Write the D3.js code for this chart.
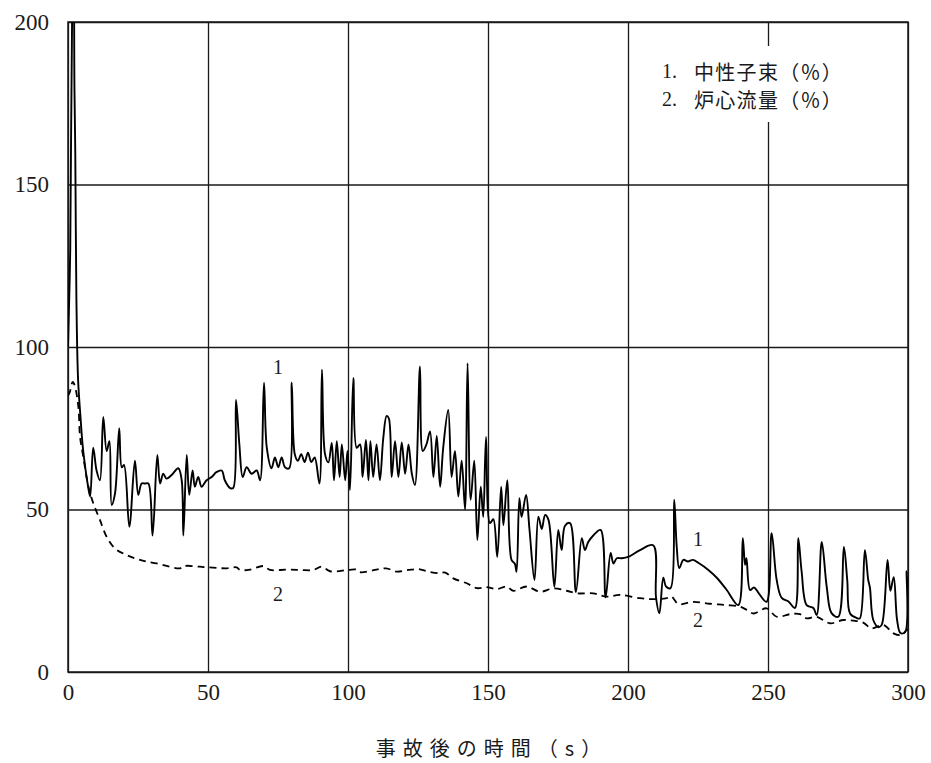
<!DOCTYPE html>
<html><head><meta charset="utf-8">
<script src="https://cdn.jsdelivr.net/npm/d3@7"></script>
<style>
html,body{margin:0;padding:0;background:#fff;}
svg{display:block;}
</style>
</head><body>
<svg id="chart" width="931" height="763"></svg>
<script>
// ---- data ----
const xTicks = [0, 50, 100, 150, 200, 250, 300];
const yTicks = [0, 50, 100, 150, 200];
const legendNums = ["1.", "2."];
const legendLabels = ["中性子束（％）", "炉心流量（％）"];
const xTitle = "事故後の時間（s）";

// series 1: neutron flux (%)
const time1 = [0,0.8,1.5,2.0,2.3,2.6,3.0,3.6,4.5,5.2,6.0,7.0,7.9,9.0,10.2,11.4,12.6,13.8,14.8,15.6,16.8,18.3,19.2,20,21.9,23.9,25.1,26.3,27.5,28.7,30.2,31.9,32.9,34,35.2,37,39.4,40.6,41.2,42.4,43.3,44.5,45.3,46.5,47.7,49.5,51.3,53,54.9,56,57.9,59,60,61.2,62.4,63.8,65.6,67.4,68.6,70,71,72.7,73.9,75.1,76.3,77.5,79,79.9,81,82.1,83.3,84.5,85.7,86.9,88.1,89.8,90.7,91.8,93,94.2,95,96,97,97.8,99,99.8,100.7,101.9,103.1,104.3,105.2,106.4,107.3,108,109,110.2,111.4,112.6,113.8,114.6,115.6,116.8,118,119.2,120.4,121.6,122.8,123.9,125.7,126.7,128,129.3,130.5,131.7,132.9,134,135.8,137,138.2,139.4,140.6,141.8,142.7,143.8,145.1,146.2,147.4,148.3,149.3,150.7,151.9,153.3,154.7,155.5,156.9,158.4,159.6,160.2,161.2,162,163.6,164.8,166.6,168,169.2,170.4,171.6,173.7,175.1,176.3,177.5,179.3,181.4,183.5,184.6,185.8,187.6,190.2,192,193.8,194.8,196,197.7,200.1,204.3,209,210,211.2,212.6,213.6,215.2,216.5,217.4,218.3,219.8,221.4,223.2,225.1,228.7,231.7,235.2,239.4,241,241.8,242.3,243.6,245,247.1,249.5,251.3,253.1,254.9,257.3,259.6,260.8,262,263.8,266.2,267.4,269.2,271,272.7,275.1,277.1,278.3,279.3,281.7,282.8,284.6,285.8,286.4,287.6,289.4,290.6,292.7,293.7,294.9,296.1,297.3,299,299.5,300];
const flux = [100,130,205,215,180,160,115,90,78,70,64,58,54,69,62,59,78.5,68,71,51.4,55,75,63,63.7,44.7,65,54.5,58,58,58,42,66.8,58,61,59.5,60.6,62.7,59,42,66.8,54.5,62,57,60,57,59,60,61.5,62,59,56.6,56.6,83.7,70,60,63,61,62,59,89,69,62.7,66,63,66,63,62.7,89,67,65,67,64.6,67.5,64.6,66,58,93,67,64.5,70.5,59,71,60,70,59,68,56,90.5,69,70,60,71.4,59,71,60,70,59,72,78.8,78,60,71,60,70.6,61,70,61,57.5,94,68,70,74,60,72.6,57,69,80.6,60,68,54,65,50,95,53,65,40.6,57,47.7,72.3,45.8,47,35.4,57,45.2,59,34.5,33.3,30.8,53.5,47.7,54.5,44,28.3,47.8,44,48.3,46.8,26.2,43.7,37.5,45,45.8,24.6,41.2,37.5,40,42,43.7,23,36.6,33.4,35,35,35.4,37.5,39,23,18.1,29,26.3,25.8,53,38.6,32,34.5,34,34.5,33.6,31.4,29,25.3,20.6,41.2,33,35,25.2,26,23.7,21.6,42.7,28.3,22.8,21.7,19.7,41.2,31,20.6,19.7,17.5,40,26,18.1,17,38.5,28.3,18,16.6,16.5,37.5,28.3,26,16,13.8,14.5,34.5,25,29.2,16,12,12.3,31,22];

// series 2: core flow (%)
const time2 = [0,0.6,1.7,2.5,3.7,4.3,5.5,7.3,9,11.4,13.8,16.8,20.9,25.7,31.7,40,41.4,47.1,50,56.7,60.2,61.4,65,69.8,72.1,78,82.9,87.6,90.6,93.6,100.1,103.1,104.3,109.6,113.6,117.4,121.6,125.7,128.7,132.3,134.7,137.6,142.4,146,149.5,153.1,156.7,159,163.8,168.6,173.3,178.1,181.7,187.6,192.4,197.1,204.3,209,213.8,215.5,218,223.3,229.3,235.2,240,242.4,244.8,249.5,253.1,257.9,261.4,263.8,267.4,272.1,276.9,280.5,284,287,291.2,294.8,297.7,299.5,300];
const flow = [85,86,89.3,87.8,81.6,72.4,66,57,52,46.8,41.6,38,36,34.5,33.4,31.9,32.6,32.4,32.2,31.9,32.2,31.4,31.5,32.6,31.4,31.5,31.4,31.4,32.4,31,31.4,31.5,30.7,31.4,31.9,30.9,31.4,31.6,30.9,30.4,30.6,28.8,27.3,25.8,26.1,25.5,26.3,25,26.3,24.7,25.7,25,24.2,24.2,23.2,23.7,22.7,22.4,22.7,23.2,20.9,21.6,21,20.6,20.1,19.1,18,19.6,17,17.8,17.8,16.5,17,15,16,15.8,15.2,13.4,14.5,11.9,11.4,12.9,13];

// curve labels
const curveLabelT = [75, 225, 75, 225];
const curveLabelV = [94, 41, 24, 16];
const curveLabelText = ["1", "1", "2", "2"];

// ---- drawing ----
const svg = d3.select("#chart");
const L = 68, R = 908, T = 22, B = 672;
const x = d3.scaleLinear().domain([0, 300]).range([L, R]);
const y = d3.scaleLinear().domain([0, 200]).range([B, T]);
const serif = "'Liberation Serif','DejaVu Serif',serif";
const cjk = "'Noto Sans CJK JP','Noto Sans CJK SC',sans-serif";
const ink = "#1a1a1a";

svg.append("defs").append("clipPath").attr("id", "plotclip")
  .append("rect").attr("x", L).attr("y", T).attr("width", R - L).attr("height", B - T);

// grid via axes
const gx = svg.append("g").attr("transform", `translate(0,${B})`)
  .call(d3.axisBottom(x).tickValues(xTicks).tickSize(-(B - T)).tickFormat(""));
const gy = svg.append("g").attr("transform", `translate(${L},0)`)
  .call(d3.axisLeft(y).tickValues(yTicks).tickSize(-(R - L)).tickFormat(""));
[gx, gy].forEach(g => {
  g.select(".domain").remove();
  g.selectAll(".tick line").attr("stroke", ink).attr("stroke-width", 1.3);
});

// frame
svg.append("rect").attr("x", L).attr("y", T).attr("width", R - L).attr("height", B - T)
  .attr("fill", "none").attr("stroke", ink).attr("stroke-width", 1.5);

// tick labels
const lx = svg.append("g").attr("transform", `translate(0,${B})`)
  .call(d3.axisBottom(x).tickValues(xTicks).tickSize(0).tickPadding(23).tickFormat(d3.format("d")));
const ly = svg.append("g").attr("transform", `translate(${L},0)`)
  .call(d3.axisLeft(y).tickValues(yTicks).tickSize(0).tickPadding(19).tickFormat(d3.format("d")));
[lx, ly].forEach(g => {
  g.select(".domain").remove();
  g.attr("font-family", serif).attr("font-size", 23);
  g.selectAll(".tick text").attr("font-family", serif).attr("font-size", 23).attr("fill", ink);
});
lx.selectAll(".tick text").attr("dy", "0.2em");

// series lines
const plot = svg.append("g").attr("clip-path", "url(#plotclip)");
const line = d3.line().x(d => x(d[0])).y(d => y(d[1])).curve(d3.curveCatmullRom.alpha(0.5));
plot.append("path").datum(time1.map((t, i) => [t, flux[i]]))
  .attr("d", line).attr("fill", "none").attr("stroke", "#000")
  .attr("stroke-width", 1.9).attr("stroke-linejoin", "round");
plot.append("path").datum(time2.map((t, i) => [t, flow[i]]))
  .attr("d", line).attr("fill", "none").attr("stroke", "#000")
  .attr("stroke-width", 1.8).attr("stroke-dasharray", "7,5");

// curve labels
svg.append("g").selectAll("text").data(curveLabelText).join("text")
  .attr("x", (d, i) => x(curveLabelT[i])).attr("y", (d, i) => y(curveLabelV[i]))
  .attr("text-anchor", "middle").attr("dominant-baseline", "central")
  .attr("font-family", serif).attr("font-size", 20).attr("fill", ink).text(d => d);

// legend box (white background covering the grid)
svg.append("rect").attr("x", 630).attr("y", 46).attr("width", 262).attr("height", 76).attr("fill", "#fff");
const leg = svg.append("g");
legendNums.forEach((n, i) => {
  leg.append("text").attr("x", 662).attr("y", 71 + i * 28).attr("dominant-baseline", "central")
    .attr("font-family", serif).attr("font-size", 20).attr("fill", ink).text(n);
  leg.append("text").attr("x", 694).attr("y", 71 + i * 28).attr("dominant-baseline", "central")
    .attr("font-family", cjk).attr("font-size", 20).attr("letter-spacing", 1.3).attr("fill", ink).text(legendLabels[i]);
});

// x-axis title
svg.append("text").attr("x", 492).attr("y", 747).attr("text-anchor", "middle")
  .attr("dominant-baseline", "central").attr("font-family", cjk).attr("font-size", 20)
  .attr("letter-spacing", 7).attr("fill", ink).text(xTitle);
</script>
</body></html>
